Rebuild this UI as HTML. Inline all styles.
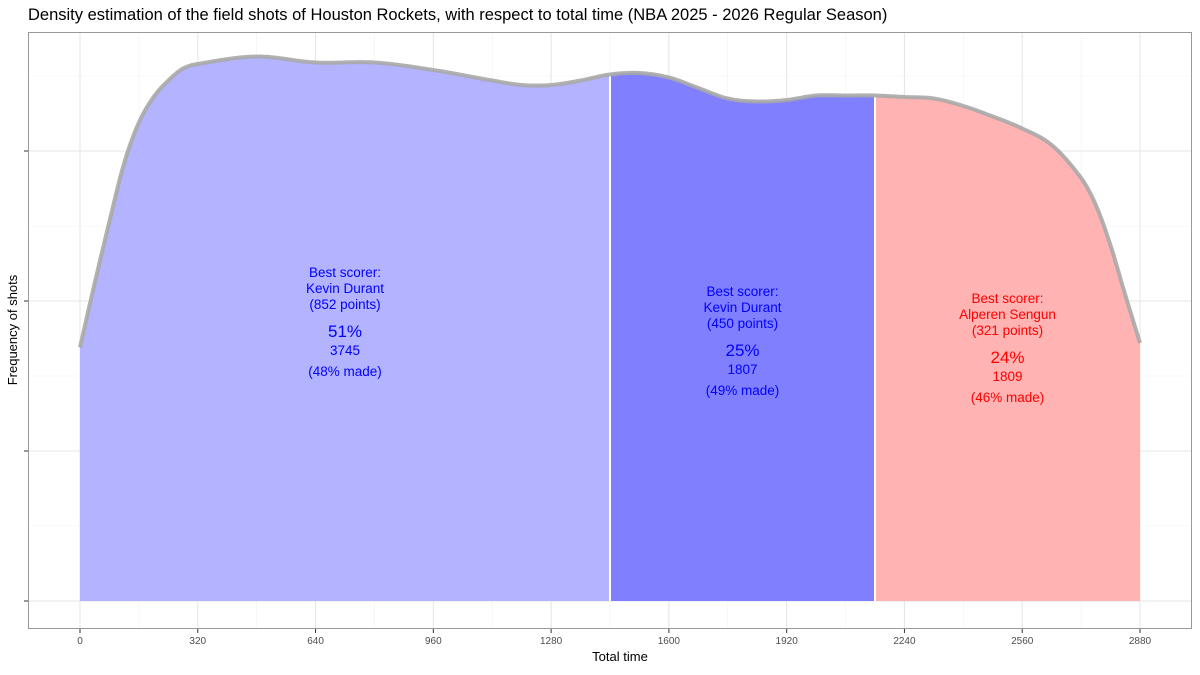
<!DOCTYPE html>
<html><head><meta charset="utf-8"><style>
body{margin:0;background:#fff;font-family:"Liberation Sans",sans-serif}
svg text{font-family:"Liberation Sans",sans-serif}
</style></head><body>
<svg id="c" width="1200" height="670" viewBox="0 0 1200 670">
<text x="28" y="20" font-size="16.5" fill="#000">Density estimation of the field shots of Houston Rockets, with respect to total time (NBA 2025 - 2026 Regular Season)</text>
<g id="grid"></g><g id="areas"></g><g id="ann"></g>
<rect x="28.5" y="32.5" width="1163" height="596" fill="none" stroke="#999" stroke-width="1"/>
<g id="axes"></g>
<text x="620" y="661" font-size="13" text-anchor="middle">Total time</text>
<text transform="translate(17,330) rotate(-90)" font-size="13" text-anchor="middle">Frequency of shots</text>
</svg>
<script>
const times=[0,40,80,120,160,200,240,280,320,480,640,800,960,1120,1200,1280,1360,1440,1520,1600,1680,1760,1840,1920,2000,2080,2160,2240,2320,2400,2480,2560,2640,2720,2760,2800,2840,2880];
const density=[1.69,2.12,2.53,2.92,3.19,3.36,3.47,3.55,3.58,3.63,3.59,3.59,3.54,3.47,3.44,3.44,3.47,3.51,3.52,3.49,3.42,3.35,3.33,3.34,3.37,3.37,3.37,3.36,3.35,3.30,3.23,3.15,3.04,2.82,2.64,2.37,2.04,1.72];
const xTicks=[0,320,640,960,1280,1600,1920,2240,2560,2880];
const yTicks=[0,1,2,3];
const splits=[0,1440,2160,2880];
const fills=["#b3b3ff","#8080ff","#ffb3b3"];
const colors=["#0000ff","#0000ff","#ff0000"];
const scorers=["Kevin Durant","Kevin Durant","Alperen Sengun"];
const points=[852,450,321];
const shares=["51%","25%","24%"];
const counts=[3745,1807,1809];
const made=["48%","49%","46%"];
const labelY=[277,296,303];
const NS="http://www.w3.org/2000/svg";
const X=t=>80+t*(1060/2880), Y=d=>601-d*150;
function mk(tag,attrs,parent){const e=document.createElementNS(NS,tag);for(const k in attrs)e.setAttribute(k,attrs[k]);parent.appendChild(e);return e;}
const grid=document.getElementById('grid'),areas=document.getElementById('areas'),ann=document.getElementById('ann'),axes=document.getElementById('axes');
for(let t=0;t<=2880;t+=160){const g=mk('line',{x1:X(t),x2:X(t),y1:32,y2:628,stroke:t%320==0?'#e6e6e6':'#f2f2f2','stroke-width':t%320==0?1.1:0.6},grid);

}
for(let v=-0.5;v<=3.8;v+=0.5){const y=Y(v);if(y<32||y>628)continue;const g=mk('line',{x1:28,x2:1192,y1:y,y2:y,stroke:Number.isInteger(v)?'#e6e6e6':'#f2f2f2','stroke-width':Number.isInteger(v)?1.1:0.6},grid);

}
function interp(t){const n=times.length;let i=0;while(i<n-2&&t>times[i+1])i++;
const t0=times[i],t1=times[i+1],h=t1-t0,f=(t-t0)/h;
const p0=density[i],p1=density[i+1];
const m0=i>0?(density[i+1]-density[i-1])/(times[i+1]-times[i-1])*h:(p1-p0);
const m1=i<n-2?(density[i+2]-density[i])/(times[i+2]-times[i])*h:(p1-p0);
const f2=f*f,f3=f2*f;
return (2*f3-3*f2+1)*p0+(f3-2*f2+f)*m0+(-2*f3+3*f2)*p1+(f3-f2)*m1;}
function samples(a,b){const pts=[];for(let t=a;t<b;t+=8)pts.push([t,interp(t)]);pts.push([b,interp(b)]);return pts;}
function pathFor(a,b){let d='M'+X(a)+','+Y(0);samples(a,b).forEach(p=>d+='L'+X(p[0]).toFixed(1)+','+Y(p[1]).toFixed(1));return d+'L'+X(b)+','+Y(0)+'Z';}
for(let i=0;i<3;i++){const p=mk('path',{d:pathFor(splits[i],splits[i+1]),fill:fills[i]},areas);

}
for(let i=1;i<3;i++){const l=mk('line',{x1:X(splits[i]),x2:X(splits[i]),y1:Y(0),y2:Y(interp(splits[i])),stroke:'#fff','stroke-width':2},areas);

}
let ld='';samples(times[0],times[times.length-1]).forEach((p,i)=>ld+=(i?'L':'M')+X(p[0]).toFixed(1)+','+Y(p[1]).toFixed(1));
const cl=mk('path',{d:ld,fill:'none',stroke:'#a8a8a8','stroke-width':4,'stroke-linejoin':'round','stroke-opacity':0.9},areas);


for(let i=0;i<3;i++){const cx=X((splits[i]+splits[i+1])/2),y0=labelY[i];
const lines=[["Best scorer:",0,13.5],[scorers[i],16,13.5],["("+points[i]+" points)",32,13.5],[shares[i],60,17],[String(counts[i]),78,13.5],["("+made[i]+" made)",99,13.5]];
lines.forEach(L=>{const t=mk('text',{x:cx,y:y0+L[1],'font-size':L[2],'text-anchor':'middle',fill:colors[i]},ann);t.textContent=L[0];

});}
xTicks.forEach(v=>{const t=mk('line',{x1:X(v),x2:X(v),y1:629,y2:633,stroke:'#333'},axes);


const l=mk('text',{x:X(v),y:644,'font-size':10,'text-anchor':'middle',fill:'#4d4d4d'},axes);l.textContent=v;

});
yTicks.forEach(v=>{const t=mk('line',{x1:24,x2:28,y1:Y(v),y2:Y(v),stroke:'#333'},axes);

});
</script>
</body></html>
